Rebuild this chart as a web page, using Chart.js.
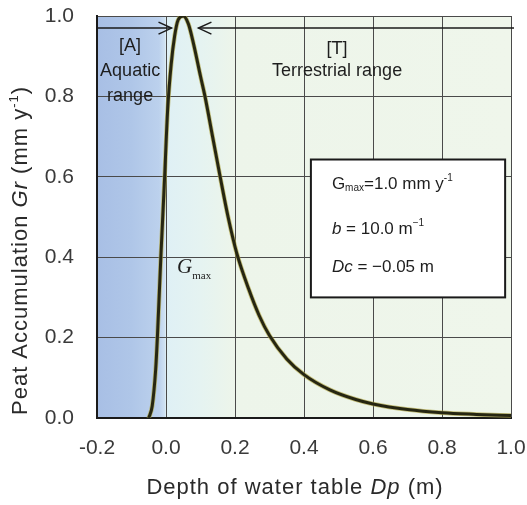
<!DOCTYPE html>
<html>
<head>
<meta charset="utf-8">
<script src="https://cdn.jsdelivr.net/npm/chart.js@4.4.0/dist/chart.umd.min.js"></script>
<style>
  html, body { margin: 0; padding: 0; background: #ffffff; }
</style>
</head>
<body>
<canvas id="grafico" width="527" height="505"></canvas>
<script>
// Datos leídos a ojo del gráfico original
var profundidad = [-0.05, -0.04, -0.03, -0.025, -0.015, -0.005, 0.005, 0.015, 0.025, 0.035, 0.05,
                   0.065, 0.08, 0.1, 0.113, 0.135, 0.157, 0.18, 0.205, 0.24, 0.27, 0.30, 0.35,
                   0.4, 0.475, 0.55, 0.6, 0.7, 0.8, 0.9, 1.0];
var acumulacion = [0, 0.03, 0.12, 0.2, 0.4, 0.58, 0.77, 0.88, 0.95, 0.99, 1.0,
                   0.98, 0.93, 0.85, 0.8, 0.7, 0.6, 0.5, 0.41, 0.32, 0.255, 0.205, 0.147,
                   0.108, 0.07, 0.046, 0.035, 0.021, 0.013, 0.009, 0.006];
var ticksX = [-0.2, 0.0, 0.2, 0.4, 0.6, 0.8, 1.0];
var ticksY = [0.0, 0.2, 0.4, 0.6, 0.8, 1.0];

// Flechas y cajas de texto (en unidades de los ejes)
var flechaA = [-0.2, 0.016];
var flechaT = [0.094, 1.0];
var alturaFlechas = 0.97;
var cajaX = [0.42, 0.983];
var cajaY = [0.30, 0.643];

var fuente = "'Liberation Sans', Arial, sans-serif";

// Escribe trozos de texto con estilos distintos en una misma linea
function textoMixto(ctx, trozos, x, y, alinear, espacio) {
  var total = 0;
  ctx.letterSpacing = (espacio || 0) + "px";
  trozos.forEach(function (t) {
    ctx.font = t.font;
    t.w = ctx.measureText(t.text).width;
    total += t.w;
  });
  var cx = alinear === "center" ? x - total / 2 : x;
  ctx.textAlign = "left";
  ctx.textBaseline = "middle";
  trozos.forEach(function (t) {
    ctx.font = t.font;
    ctx.fillText(t.text, cx, y + (t.dy || 0));
    cx += t.w;
  });
  ctx.letterSpacing = "0px";
}

function flecha(ctx, x1, x2, y, punta) {
  ctx.beginPath();
  ctx.moveTo(x1, y);
  ctx.lineTo(x2, y);
  ctx.stroke();
  var px = punta === "der" ? x2 : x1;
  var d = punta === "der" ? -13 : 13;
  ctx.beginPath();
  ctx.moveTo(px + d, y - 6);
  ctx.lineTo(px, y);
  ctx.lineTo(px + d, y + 6);
  ctx.stroke();
}

var fondo = {
  id: "fondo",
  beforeDraw: function (chart) {
    var a = chart.chartArea, sx = chart.scales.x, ctx = chart.ctx;
    var g = ctx.createLinearGradient(sx.getPixelForValue(-0.2), 0, sx.getPixelForValue(1.0), 0);
    g.addColorStop(0, "#a8bfe5");
    g.addColorStop(1 / 12, "#afc6e8");
    g.addColorStop(0.15, "#bcd1ed");
    g.addColorStop(0.163, "#cfe1f2");
    g.addColorStop(1 / 6, "#dff0f5");
    g.addColorStop(0.25, "#e5f3f1");
    g.addColorStop(1 / 3, "#edf5ea");
    g.addColorStop(1, "#eff6eb");
    ctx.save();
    ctx.fillStyle = g;
    ctx.fillRect(a.left, a.top, a.right - a.left, a.bottom - a.top);
    ctx.restore();
  }
};

var anotaciones = {
  id: "anotaciones",
  afterDraw: function (chart) {
    var ctx = chart.ctx, sx = chart.scales.x, sy = chart.scales.y, a = chart.chartArea;
    var X = function (v) { return sx.getPixelForValue(v); };
    var Y = function (v) { return sy.getPixelForValue(v); };
    ctx.save();
    ctx.strokeStyle = "#1a1a1a";
    ctx.fillStyle = "#1e1e1e";
    ctx.lineWidth = 1.5;

    // Flechas de los rangos
    flecha(ctx, X(flechaA[0]), X(flechaA[1]), Y(alturaFlechas), "der");
    flecha(ctx, X(flechaT[0]), X(flechaT[1]) + 3, Y(alturaFlechas), "izq");

    ctx.font = "18px " + fuente;
    ctx.textAlign = "center";
    ctx.textBaseline = "middle";
    ctx.fillText("[A]", X(-0.104), Y(0.925));
    ctx.fillText("Aquatic", X(-0.104), Y(0.863));
    ctx.fillText("range", X(-0.104), Y(0.80));
    ctx.fillText("[T]", X(0.496), Y(0.918));
    ctx.fillText("Terrestrial range", X(0.496), Y(0.863));

    // Etiqueta Gmax
    textoMixto(ctx, [
      { text: "G", font: "italic 21px 'Liberation Serif', serif" },
      { text: "max", font: "11px 'Liberation Serif', serif", dy: 9 }
    ], X(0.032), Y(0.375), "left");

    // Caja de parametros
    var bx = X(cajaX[0]), by = Y(cajaY[1]), bw = X(cajaX[1]) - bx, bh = Y(cajaY[0]) - by;
    ctx.fillStyle = "#ffffff";
    ctx.fillRect(bx, by, bw, bh);
    ctx.lineWidth = 2;
    ctx.strokeRect(bx, by, bw, bh);
    ctx.fillStyle = "#1e1e1e";
    var tx = bx + 21;
    textoMixto(ctx, [
      { text: "G", font: "17px " + fuente },
      { text: "max", font: "10px " + fuente, dy: 4 },
      { text: "=1.0 mm y", font: "17px " + fuente },
      { text: "-1", font: "10px " + fuente, dy: -6 }
    ], tx, by + 25, "left");
    textoMixto(ctx, [
      { text: "b", font: "italic 17px " + fuente },
      { text: " = 10.0 m", font: "17px " + fuente },
      { text: "\u22121", font: "10px " + fuente, dy: -6 }
    ], tx, by + 70, "left");
    textoMixto(ctx, [
      { text: "Dc", font: "italic 17px " + fuente },
      { text: " = \u22120.05 m", font: "17px " + fuente }
    ], tx, by + 108, "left");

    // Titulos de los ejes
    ctx.fillStyle = "#2a2a2a";
    textoMixto(ctx, [
      { text: "Depth of water table ", font: "22px " + fuente },
      { text: "Dp", font: "italic 22px " + fuente },
      { text: " (m)", font: "22px " + fuente }
    ], 295, 488, "center", 1);

    ctx.translate(21, a.bottom - 3);
    ctx.rotate(-Math.PI / 2);
    textoMixto(ctx, [
      { text: "Peat Accumulation ", font: "22px " + fuente },
      { text: "Gr", font: "italic 22px " + fuente },
      { text: " (mm y", font: "22px " + fuente },
      { text: "-1", font: "13px " + fuente, dy: -7 },
      { text: ")", font: "22px " + fuente }
    ], 0, 0, "left", 1);
    ctx.restore();
  }
};

function sinRelleno(s) {
  s.paddingTop = 0;
  s.paddingBottom = 0;
  s.paddingLeft = 0;
  s.paddingRight = 0;
}

function cargaGrafico() {
  var puntos = profundidad.map(function (d, i) { return { x: d, y: acumulacion[i] }; });

  var config = {
    type: "scatter",
    data: {
      datasets: [{
        data: puntos,
        showLine: true,
        borderColor: "#262612",
        borderWidth: 3,
        pointRadius: 0,
        cubicInterpolationMode: "monotone"
      }, {
        data: puntos,
        showLine: true,
        borderColor: "rgba(175,165,70,0.7)",
        borderWidth: 4.5,
        pointRadius: 0,
        cubicInterpolationMode: "monotone"
      }]
    },
    options: {
      responsive: false,
      animation: false,
      layout: { padding: { top: 16, right: 16, left: 0, bottom: 0 } },
      plugins: {
        legend: { display: false },
        tooltip: { enabled: false }
      },
      scales: {
        x: {
          type: "linear",
          min: -0.2,
          max: 1.0,
          afterBuildTicks: function (s) { s.ticks = ticksX.map(function (v) { return { value: v }; }); },
          afterFit: function (s) { s.height = 87; sinRelleno(s); },
          ticks: {
            color: "#3a3a3a",
            font: { family: fuente, size: 21 },
            padding: 18,
            callback: function (v) { return v.toFixed(1); }
          },
          grid: { color: "#4a4a4a", lineWidth: 1, drawTicks: false },
          border: { color: "#1a1a1a", width: 2 }
        },
        y: {
          min: 0,
          max: 1.0,
          afterBuildTicks: function (s) { s.ticks = ticksY.map(function (v) { return { value: v }; }); },
          afterFit: function (s) { s.width = 97; sinRelleno(s); },
          ticks: {
            color: "#3a3a3a",
            font: { family: fuente, size: 21 },
            padding: 23,
            callback: function (v) { return v.toFixed(1); }
          },
          grid: { color: "#4a4a4a", lineWidth: 1, drawTicks: false },
          border: { color: "#1a1a1a", width: 2 }
        }
      }
    },
    plugins: [fondo, anotaciones]
  };

  var ctx = document.getElementById("grafico").getContext("2d");
  new Chart(ctx, config);
}

cargaGrafico();
</script>
</body>
</html>
